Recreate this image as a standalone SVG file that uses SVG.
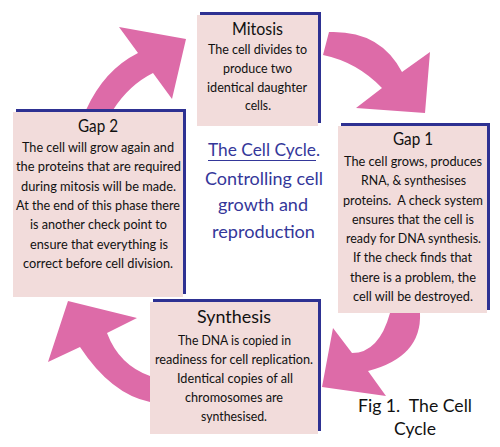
<svg xmlns="http://www.w3.org/2000/svg" width="500" height="447" viewBox="0 0 500 447">
<style>
.shadow{fill:#2e3192}
.box{fill:#f2dcdb}
.arrow{fill:#dd6ba8}
.t{font-family:Lato,"Open Sans","Liberation Sans",sans-serif;fill:#111}
.h{font-size:16.5px}
.hs{font-size:18px}
.b{font-size:12.6px}
.c{font-family:Lato,"Open Sans","Liberation Sans",sans-serif;font-size:18px;fill:#34379a}
.cap{font-family:Lato,"Open Sans","Liberation Sans",sans-serif;font-size:18px;fill:#111}
</style>
<rect width="500" height="447" fill="#fff"/>
<g id="connectors">
<path class="arrow" d="M86,110 Q104,70 138,53 L119,27 L186,39 L172,99 L153,73 Q129,85 113,110 Z"/>
<path class="arrow" d="M329,32 Q380,30 402,72 L430,52 L425,113 L356,108 L382,88 Q357,62 323,55 Z"/>
<path class="arrow" d="M390,313 Q379,353 352,353 L333,328 L322,387 L386,396 L368,371 Q422,357 420,313 Z"/>
<path class="arrow" d="M150,376 Q119,365 107,333 L137,318 L68,301 L48,362 L80,347 Q111,394 150,402 Z"/>
</g>
<g id="mitosis">
<rect class="shadow" x="200" y="12" width="121" height="111"/>
<rect class="box" x="197" y="15" width="121" height="111"/>
<text class="t h" x="232" y="35" textLength="51" lengthAdjust="spacingAndGlyphs">Mitosis</text>
<text class="t b" x="208" y="54" textLength="99" lengthAdjust="spacingAndGlyphs">The cell divides to</text>
<text class="t b" x="223" y="73" textLength="69" lengthAdjust="spacingAndGlyphs">produce two</text>
<text class="t b" x="207" y="92" textLength="100" lengthAdjust="spacingAndGlyphs">identical daughter</text>
<text class="t b" x="245" y="110" textLength="26" lengthAdjust="spacingAndGlyphs">cells.</text>
</g>
<g id="gap2">
<rect class="shadow" x="16" y="109" width="170" height="185"/>
<rect class="box" x="13" y="112" width="170" height="185"/>
<text class="t h" x="78" y="132" textLength="40" lengthAdjust="spacingAndGlyphs">Gap 2</text>
<text class="t b" x="22" y="152" textLength="152" lengthAdjust="spacingAndGlyphs">The cell will grow again and</text>
<text class="t b" x="16" y="171" textLength="165" lengthAdjust="spacingAndGlyphs">the proteins that are required</text>
<text class="t b" x="21" y="191" textLength="155" lengthAdjust="spacingAndGlyphs">during mitosis will be made.</text>
<text class="t b" x="16" y="210" textLength="164" lengthAdjust="spacingAndGlyphs">At the end of this phase there</text>
<text class="t b" x="30" y="229" textLength="137" lengthAdjust="spacingAndGlyphs">is another check point to</text>
<text class="t b" x="30" y="249" textLength="138" lengthAdjust="spacingAndGlyphs">ensure that everything is</text>
<text class="t b" x="23" y="268" textLength="150" lengthAdjust="spacingAndGlyphs">correct before cell division.</text>
</g>
<g id="gap1">
<rect class="shadow" x="341" y="123" width="149" height="187"/>
<rect class="box" x="338" y="126" width="149" height="187"/>
<text class="t h" x="393" y="145" textLength="40" lengthAdjust="spacingAndGlyphs">Gap 1</text>
<text class="t b" x="344" y="166" textLength="138" lengthAdjust="spacingAndGlyphs">The cell grows, produces</text>
<text class="t b" x="361" y="185" textLength="105" lengthAdjust="spacingAndGlyphs">RNA, &amp; synthesises</text>
<text class="t b" x="343" y="205" textLength="140" lengthAdjust="spacingAndGlyphs">proteins.&#160; A check system</text>
<text class="t b" x="352" y="224" textLength="122" lengthAdjust="spacingAndGlyphs">ensures that the cell is</text>
<text class="t b" x="346" y="243" textLength="135" lengthAdjust="spacingAndGlyphs">ready for DNA synthesis.</text>
<text class="t b" x="353" y="262" textLength="119" lengthAdjust="spacingAndGlyphs">If the check finds that</text>
<text class="t b" x="350" y="282" textLength="126" lengthAdjust="spacingAndGlyphs">there is a problem, the</text>
<text class="t b" x="353" y="301" textLength="120" lengthAdjust="spacingAndGlyphs">cell will be destroyed.</text>
</g>
<g id="synthesis">
<rect class="shadow" x="153" y="299" width="168" height="132"/>
<rect class="box" x="150" y="302" width="168" height="132"/>
<text class="t hs" x="197" y="323" textLength="74" lengthAdjust="spacingAndGlyphs">Synthesis</text>
<text class="t b" x="178" y="345" textLength="113" lengthAdjust="spacingAndGlyphs">The DNA is copied in</text>
<text class="t b" x="155" y="364" textLength="158" lengthAdjust="spacingAndGlyphs">readiness for cell replication.</text>
<text class="t b" x="177" y="383" textLength="116" lengthAdjust="spacingAndGlyphs">Identical copies of all</text>
<text class="t b" x="185" y="402" textLength="98" lengthAdjust="spacingAndGlyphs">chromosomes are</text>
<text class="t b" x="201" y="421" textLength="66" lengthAdjust="spacingAndGlyphs">synthesised.</text>
</g>
<g id="title">
<text class="c" x="208" y="156" textLength="112" lengthAdjust="spacingAndGlyphs">The Cell Cycle.</text>
<line x1="208" y1="160.5" x2="316" y2="160.5" stroke="#34379a" stroke-width="1.2"/>
<text class="c" x="205" y="185" textLength="118" lengthAdjust="spacingAndGlyphs">Controlling cell</text>
<text class="c" x="218" y="211" textLength="90" lengthAdjust="spacingAndGlyphs">growth and</text>
<text class="c" x="212" y="238" textLength="103" lengthAdjust="spacingAndGlyphs">reproduction</text>
</g>
<g id="caption">
<text class="cap" x="358" y="412" textLength="114" lengthAdjust="spacingAndGlyphs">Fig 1.&#160; The Cell</text>
<text class="cap" x="394" y="435" textLength="42" lengthAdjust="spacingAndGlyphs">Cycle</text>
</g>
</svg>
